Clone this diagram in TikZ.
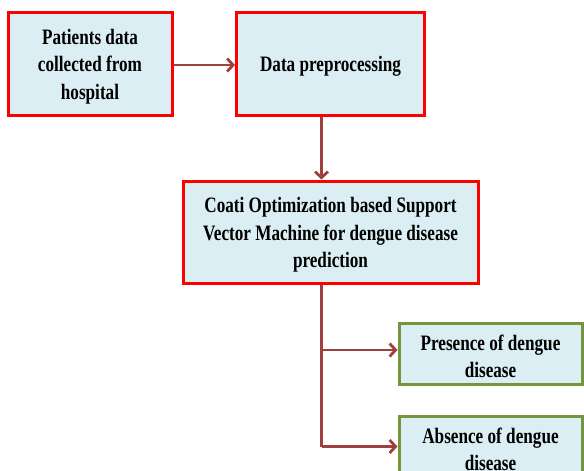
\documentclass[tikz,border=0pt]{standalone}
\usepackage{fontspec}
\setmainfont{Liberation Serif}[FakeStretch=0.78]
\usetikzlibrary{arrows.meta}
\definecolor{boxfill}{HTML}{DAEEF3}
\definecolor{redline}{HTML}{FF0000}
\definecolor{greenline}{HTML}{77933C}
\definecolor{arrowc}{HTML}{A0403E}
\newcommand\toppad{\rule{0pt}{21.5pt}}
\tikzset{
  stepbox/.style={draw=redline, line width=3pt, fill=boxfill, align=center,
    font=\bfseries\fontsize{22}{27.5}\selectfont, inner sep=0pt},
  outbox/.style={stepbox, draw=greenline},
  arr/.style={draw=arrowc, line width=2.8pt, -{Straight Barb[length=6pt,width=13pt,line width=2.8pt]}},
  line/.style={draw=arrowc, line width=2.8pt}
}
\begin{document}
\begin{tikzpicture}[x=1pt,y=-1pt]
\useasboundingbox (0,0) rectangle (584,471);
\clip (0,0) rectangle (584,471);
\node[stepbox, minimum width=164pt, minimum height=103pt] (b1) at (90,63.5) {\toppad Patients data\\collected from\\hospital};
\node[stepbox, minimum width=188pt, minimum height=103pt] (b2) at (330.5,63.5) {\toppad Data preprocessing};
\node[stepbox, minimum width=295pt, minimum height=102pt] (b3) at (330.5,232) {\toppad Coati Optimization based Support\\Vector Machine for dengue disease\\prediction};
\node[outbox, minimum width=183pt, minimum height=61pt] (b4) at (490.5,353.5) {\toppad Presence of dengue\\disease};
\node[outbox, minimum width=183pt, minimum height=61pt] (b5) at (490.5,446.5) {\toppad Absence of dengue\\disease};
\coordinate (spine) at (321.5,0);
\coordinate (corner) at (spine |- b5.west);
\draw[arr] (b1.east |- 0,65) -- (b2.west |- 0,65);
\draw[arr] (b2.south -| spine) -- (b3.north -| spine);
\draw[line] (b3.south -| spine) -- (corner);
\draw[arr] (corner) -- (b5.west);
\draw[arr] (spine |- 0,350) -- (b4.west |- 0,350);
\end{tikzpicture}
\end{document}
